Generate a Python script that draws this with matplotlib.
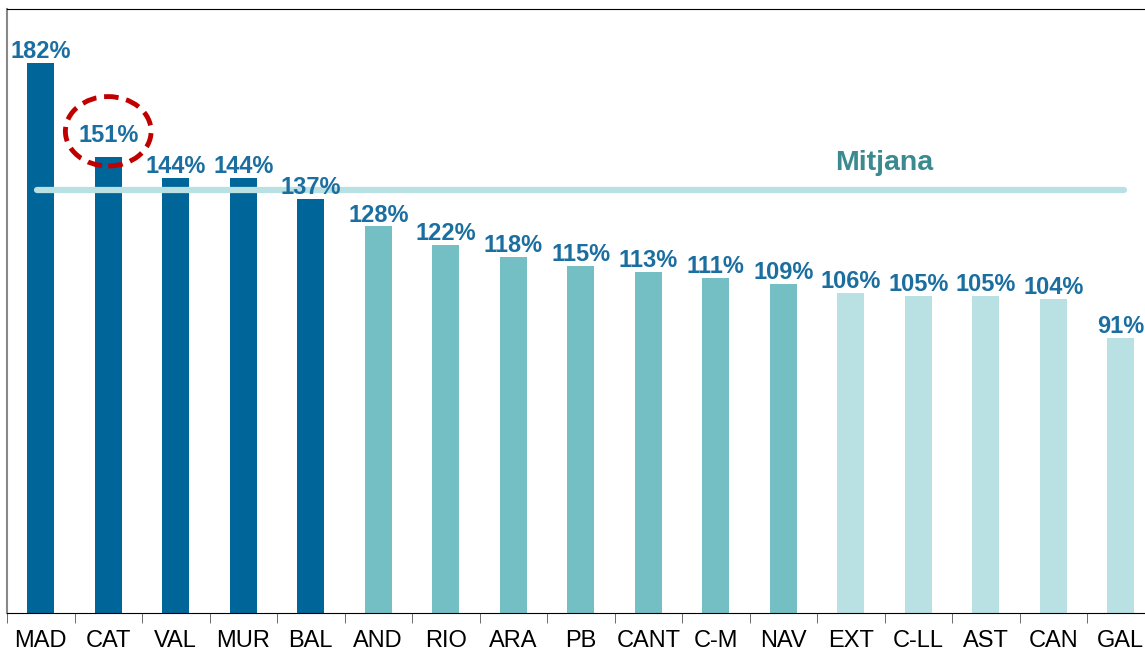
import matplotlib.pyplot as plt
import numpy as np
from matplotlib.patches import Ellipse

plt.rcParams['font.family'] = ['Liberation Sans', 'DejaVu Sans']

regions = ['MAD', 'CAT', 'VAL', 'MUR', 'BAL', 'AND', 'RIO', 'ARA', 'PB', 'CANT',
           'C-M', 'NAV', 'EXT', 'C-LL', 'AST', 'CAN', 'GAL']
values = [182, 151, 144, 144, 137, 128, 122, 118, 115, 113, 111, 109, 106, 105, 105, 104, 91]
groups = [0, 0, 0, 0, 0, 1, 1, 1, 1, 1, 1, 1, 2, 2, 2, 2, 2]
mean_value = 140

group_colors = ['#006699', '#73BFC4', '#B9E0E3']
label_color = '#1B6EA0'

x = np.arange(len(regions))
colors = [group_colors[g] for g in groups]

fig = plt.figure(figsize=(11.45, 6.51), dpi=100)
ax = fig.add_axes([7 / 1145, 1 - 613 / 651, 1147.5 / 1145, 604 / 651])

ax.bar(x, values, width=0.4, color=colors, zorder=2)

# average line (drawn over the bars)
ax.plot([-0.05, 16.05], [mean_value, mean_value], color='#B9E0E3', lw=4.5,
        solid_capstyle='round', zorder=3)
ax.text(12.5, mean_value + 9, 'Mitjana', color='#3A8A8F', fontsize=20.5,
        fontweight='bold', ha='center', va='center')

for i, v in enumerate(values):
    if regions[i] == 'CAT':
        ax.text(i, v + 5, f'{v}%', color=label_color, fontsize=17, fontweight='bold',
                ha='center', va='baseline', zorder=4)
    else:
        ax.annotate(f'{v}%', (i, v), xytext=(0, 3.5), textcoords='offset points',
                    color=label_color, fontsize=17, fontweight='bold',
                    ha='center', va='baseline', zorder=4)

# highlight circle around CAT
ax.add_patch(Ellipse((1.0, 159.5), 1.27, 23, fill=False, edgecolor='#C00000',
                     lw=3.5, linestyle=(0, (3, 1.6)), zorder=5))

ax.set_xlim(-0.5, 16.5)
ax.set_ylim(0, 200)
ax.set_yticks([])
ax.set_xticks(x)
ax.set_xticklabels(regions, fontsize=17)
ax.set_xticks(np.arange(-0.5, 17, 1), minor=True)
ax.tick_params(axis='x', which='major', length=0, pad=12)
ax.tick_params(axis='x', which='minor', length=7, color='#555555', direction='out')
ax.spines['left'].set_color('#888888')
ax.spines['left'].set_linewidth(1.5)
ax.spines['right'].set_visible(False)

fig.savefig('out.png', dpi=100)
